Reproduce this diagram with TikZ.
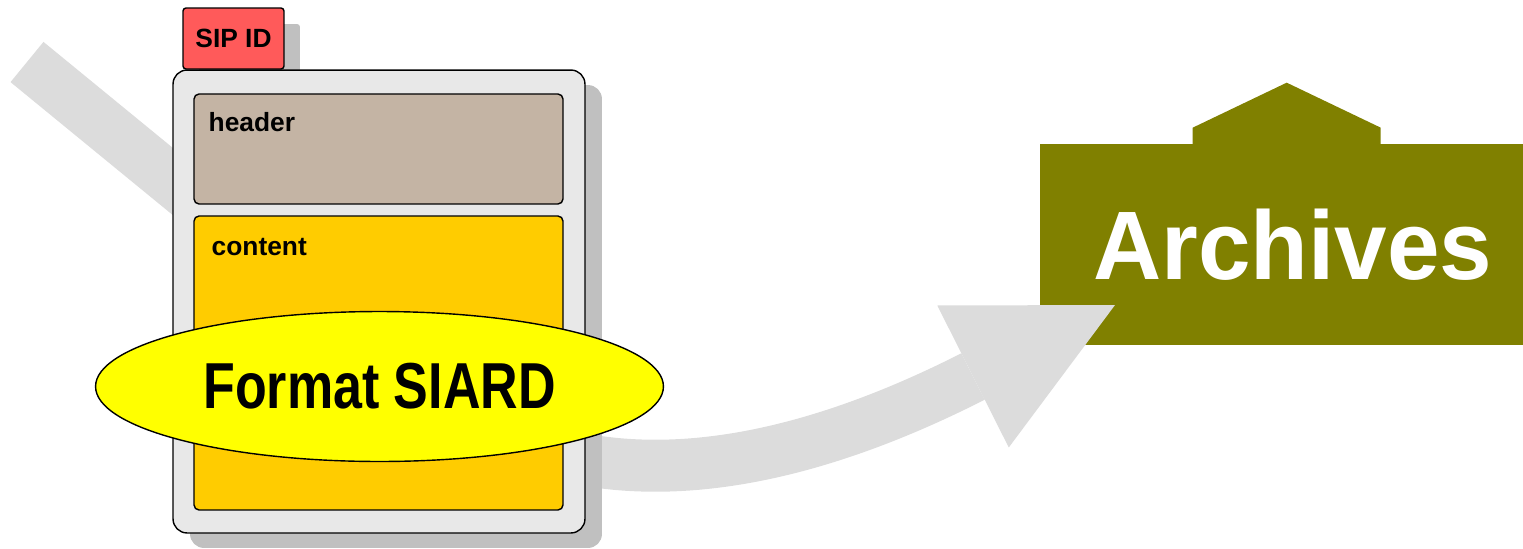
\documentclass[tikz,border=0pt]{standalone}
\usepackage{fontspec}
\setmainfont{Liberation Sans}
\newfontfamily\narrowsans{Liberation Sans}[FakeStretch=0.80]
\newfontfamily\archsans{Liberation Sans}[FakeStretch=0.97]
\usetikzlibrary{arrows.meta, shadows, shapes.geometric}
\definecolor{flowgrey}{RGB}{220,220,220}
\definecolor{boxgrey}{RGB}{232,232,232}
\definecolor{shadegrey}{RGB}{192,192,192}
\definecolor{headtan}{RGB}{196,180,164}
\definecolor{contgold}{RGB}{255,204,0}
\definecolor{tabred}{RGB}{255,90,90}
\definecolor{archolive}{RGB}{128,128,0}
\definecolor{siardyellow}{RGB}{255,255,0}

\begin{document}
\begin{tikzpicture}[
    x=0.02cm, y=-0.02cm,
    box/.style={draw=black, line width=0.8pt, inner sep=0pt},
    lbl/.style={font=\bfseries\fontsize{15pt}{18pt}\selectfont, inner sep=0pt},
    sipbox/.style={box, fill=tabred, rounded corners=0.06cm, lbl,
                   minimum width=2.02cm, minimum height=1.22cm,
                   drop shadow={shadow xshift=0.32cm, shadow yshift=-0.32cm,
                                fill=shadegrey, opacity=1}},
    docbox/.style={box, fill=boxgrey, rounded corners=0.28cm,
                   minimum width=8.24cm, minimum height=9.26cm,
                   drop shadow={shadow xshift=0.34cm, shadow yshift=-0.30cm,
                                fill=shadegrey, opacity=1}},
    partbox/.style={box, rounded corners=0.1cm, minimum width=7.38cm},
    siard/.style={box, ellipse, fill=siardyellow,
                  minimum width=11.36cm, minimum height=3.0cm,
                  font=\narrowsans\bfseries\fontsize{37pt}{40pt}\selectfont},
    archbox/.style={fill=archolive, text=white, inner sep=0pt,
                    minimum width=10.12cm, minimum height=4.02cm,
                    font=\archsans\bfseries\fontsize{55.4pt}{60pt}\selectfont},
    flow/.style={draw=flowgrey, line width=1.04cm, line cap=butt,
                 -{Triangle[length=3.18cm, width=3.18cm, line width=0pt]}}
  ]
  \useasboundingbox (0,0) rectangle (1523,548);

  % archives building
  \node[archbox] (arch) at (1293,244.5) {Archives};
  \fill[archolive] ([shift={(153,1)}]arch.north west) -- ++(0,-17)
       -- ++(94,-45) -- ++(94,45) -- ++(0,17) -- cycle;

  % flow into the archives
  \coordinate (flowstart) at (27,62);
  \coordinate (flowtip) at (1115,305);
  \draw[flow] (flowstart) -- (420,384)
       .. controls (559,498) and (749,490) .. (972,377) -- (flowtip);

  % the package
  \node[sipbox] (sip) at (233.5,38.5) {SIP ID};
  \node[docbox] (doc) at (379,301.5) {};
  \node[partbox, fill=headtan, minimum height=2.2cm] (hdr) at (378.5,149) {};
  \node[partbox, fill=contgold, minimum height=5.88cm] (cnt) at (378.5,363) {};
  \node[lbl, anchor=base west] (hdrlbl) at ([shift={(15,38)}]hdr.north west) {header};
  \node[lbl, anchor=base west] (cntlbl) at ([shift={(18,40)}]cnt.north west) {content};

  \node[siard] (fmt) at (379.5,386.5) {Format SIARD};
\end{tikzpicture}
\end{document}
